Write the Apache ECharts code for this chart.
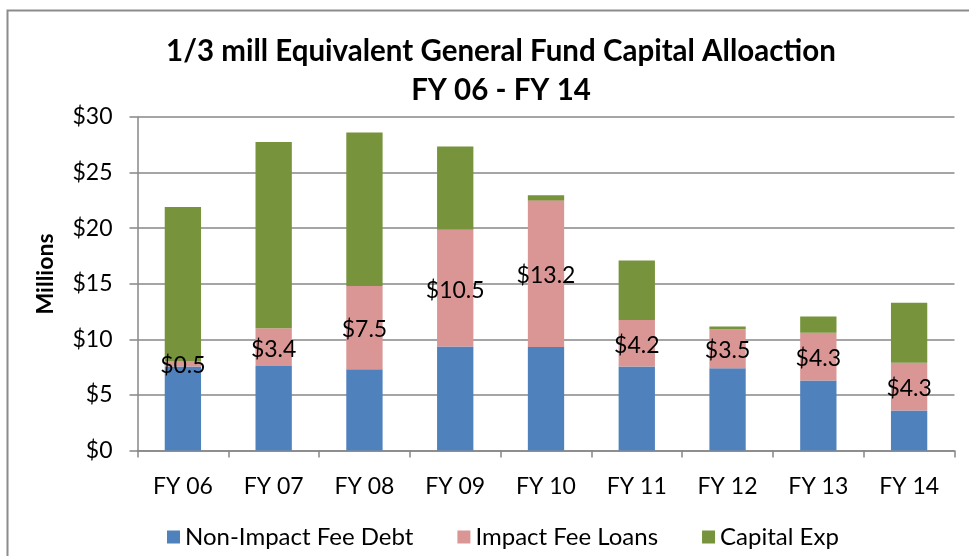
<!DOCTYPE html>
<html>
<head>
<meta charset="utf-8">
<script src="https://cdn.jsdelivr.net/npm/echarts@6/dist/echarts.min.js"></script>
<style>
  html, body { margin: 0; padding: 0; background: #ffffff; }
  #chart { width: 969px; height: 556px; }
</style>
</head>
<body>
<div id="chart"></div>
<script>
// Fiscal years on the category axis
const years = ['FY 06', 'FY 07', 'FY 08', 'FY 09', 'FY 10', 'FY 11', 'FY 12', 'FY 13', 'FY 14'];

// Allocation components, $ millions
const nonImpactFeeDebt = [7.55, 7.6, 7.3, 9.35, 9.3, 7.55, 7.4, 6.3, 3.6];
const impactFeeLoans   = [0.5, 3.4, 7.5, 10.5, 13.2, 4.2, 3.5, 4.3, 4.3];
const capitalExp       = [13.85, 16.75, 13.8, 7.5, 0.45, 5.35, 0.25, 1.45, 5.4];

// Value axis ticks
const yTicks = [0, 5, 10, 15, 20, 25, 30];

const seriesNames = ['Non-Impact Fee Debt', 'Impact Fee Loans', 'Capital Exp'];

const FONT = 'Lato, "Open Sans", sans-serif';
const GRAY = '#878787';

const chart = echarts.init(document.getElementById('chart'), null, { renderer: 'canvas' });

chart.setOption({
  animation: false,
  backgroundColor: '#ffffff',
  title: {
    text: '1/3 mill Equivalent General Fund Capital Alloaction\nFY 06 - FY 14',
    left: 496,
    top: 27,
    textAlign: 'center',
    textStyle: {
      fontFamily: FONT,
      fontWeight: 'bold',
      fontSize: 29.5,
      lineHeight: 39,
      color: '#000000'
    }
  },
  legend: {
    data: seriesNames,
    left: 162,
    top: 520,
    icon: 'rect',
    itemWidth: 13,
    itemHeight: 13,
    itemGap: 44,
    textStyle: { fontFamily: FONT, fontSize: 24, color: '#000000' }
  },
  grid: { left: 137.5, right: 14.5, top: 117, bottom: 105.5, containLabel: false },
  xAxis: {
    type: 'category',
    data: years,
    axisLine: { lineStyle: { color: GRAY, width: 1.5 } },
    axisTick: { show: true, length: 7, alignWithLabel: false, lineStyle: { color: GRAY, width: 1.5 } },
    axisLabel: { fontFamily: FONT, fontSize: 23, color: '#000000', margin: 25 }
  },
  yAxis: {
    type: 'value',
    min: yTicks[0],
    max: yTicks[yTicks.length - 1],
    interval: yTicks[1] - yTicks[0],
    axisLine: { show: true, lineStyle: { color: GRAY, width: 1.5 } },
    axisTick: { show: true, length: 8, lineStyle: { color: GRAY, width: 1.5 } },
    splitLine: { lineStyle: { color: GRAY, width: 1.5 } },
    axisLabel: {
      fontFamily: FONT, fontSize: 23, color: '#000000', margin: 25,
      formatter: v => '$' + v
    }
  },
  graphic: [
    {
      type: 'rect',
      silent: true,
      shape: { x: 7.5, y: 10.5, width: 1200, height: 1200 },
      style: { fill: 'none', stroke: '#8c8c8c', lineWidth: 2 }
    },
    {
      type: 'text',
      x: 46,
      y: 274,
      rotation: Math.PI / 2,
      style: {
        text: 'Millions',
        fill: '#000000',
        font: 'bold 23px ' + FONT,
        textAlign: 'center',
        textVerticalAlign: 'middle'
      }
    }
  ],
  series: [
    {
      name: seriesNames[0],
      type: 'bar',
      stack: 'total',
      barWidth: '40%',
      data: nonImpactFeeDebt,
      itemStyle: { color: '#4F81BD' }
    },
    {
      name: seriesNames[1],
      type: 'bar',
      stack: 'total',
      data: impactFeeLoans,
      itemStyle: { color: '#D99694' },
      label: {
        show: true,
        position: 'inside',
        offset: [0, 2],
        fontFamily: FONT,
        fontSize: 23,
        color: '#000000',
        formatter: p => '$' + p.value.toFixed(1)
      }
    },
    {
      name: seriesNames[2],
      type: 'bar',
      stack: 'total',
      data: capitalExp,
      itemStyle: { color: '#77933C' }
    }
  ]
});
</script>
</body>
</html>
